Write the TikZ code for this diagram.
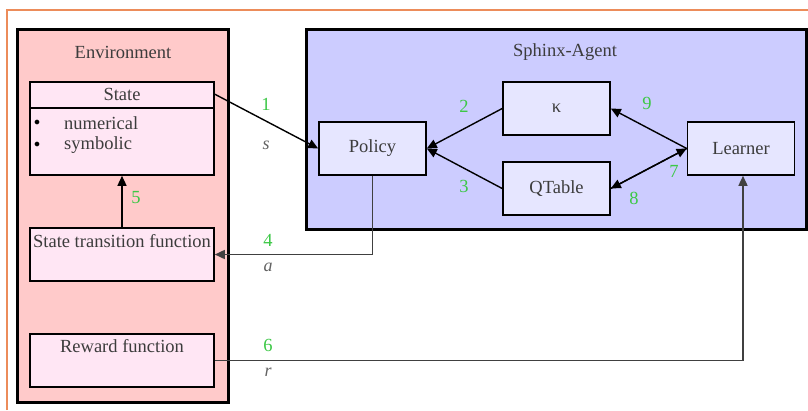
\documentclass[tikz,border=0pt]{standalone}
\usepackage{fontspec}
\newfontfamily\tms{Liberation Serif}
\usetikzlibrary{arrows.meta,calc}
\definecolor{envfill}{RGB}{255,202,202}
\definecolor{envbox}{RGB}{255,230,244}
\definecolor{agfill}{RGB}{204,204,255}
\definecolor{agbox}{RGB}{230,230,255}
\definecolor{txt}{RGB}{60,60,60}
\definecolor{lbl}{RGB}{60,200,70}
\definecolor{frame}{RGB}{236,140,90}
\tikzset{
  cluster/.style={draw=black,line width=3pt},
  envnode/.style={draw=black,line width=1.6pt,fill=envbox,minimum width=184pt,inner sep=0pt},
  agnode/.style={draw=black,line width=1.6pt,fill=agbox,minimum width=107pt,minimum height=53pt,inner sep=0pt,text=txt},
  ttl/.style={text=txt,inner sep=0pt},
  num/.style={text=lbl,inner sep=0pt},
  var/.style={text=txt!80,inner sep=0pt,font=\tms\fontsize{18}{20}\selectfont\itshape},
  edge/.style={line width=1.4pt,-{Triangle[length=10pt,width=9pt]}},
  gedge/.style={edge,line width=1.6pt,draw=black!75}
}
\begin{document}
\begin{tikzpicture}[x=1pt,y=-1pt,font=\tms\fontsize{18.5}{20}\selectfont]
\useasboundingbox (0,0) rectangle (808,410);
\fill[white] (0,0) rectangle (808,410);
\draw[frame,line width=1.4pt] (7,410) -- (7,10) -- (808,10);
% clusters
\draw[cluster,fill=envfill] (17,29) rectangle (228,402);
\node[ttl] (envt) at (123,52) {Environment};
\draw[cluster,fill=agfill] (306,29) rectangle (806,229);
\node[ttl] (agt) at (565,52) {Sphinx-Agent};
% environment nodes
\node[envnode,minimum height=93pt] (State) at (122,128.5) {};
\draw[line width=1.2pt] (30,108) -- (214,108);
\node[ttl] (statet) at (122,94) {State};
\node[inner sep=0pt] (b1) at (37,123) {\large$\bullet$};
\node[inner sep=0pt] (b2) at (37,145) {\large$\bullet$};
\node[ttl,anchor=west] (num1) at (64,123) {numerical};
\node[ttl,anchor=west] (sym1) at (64,145) {symbolic};
\node[envnode,minimum height=53pt] (STF) at (122,254.5) {};
\node[ttl] (stft) at (122,241) {State transition function};
\node[envnode,minimum height=53pt] (Reward) at (122,360.5) {};
\node[ttl] (rwt) at (122,346) {Reward function};
% agent nodes
\node[agnode] (Policy) at (372.5,148.5) {Policy};
\node[agnode] (Kappa) at (556.5,108.5) {κ};
\node[agnode] (QTable) at (556.5,188.5) {QTable};
\node[agnode] (Learner) at (741,148.5) {Learner};
% edges
\coordinate (s1) at ([yshift=-13pt]State.north east);
\draw[edge] (s1) -- (Policy.west);
\node[num] (n1) at (266,104) {1};
\node[var] (v1) at (266,145) {s};
\draw[edge] (Kappa.west) -- (Policy.east);
\node[num] (n2) at (464,106) {2};
\draw[edge] (QTable.west) -- (Policy.east);
\node[num] (n3) at (464,186) {3};
\draw[gedge] (Policy.south) |- (STF.east);
\node[num] (n4) at (268,240) {4};
\node[var] (v4) at (268,267) {a};
\draw[edge] (STF.north) -- (State.south);
\node[num] (n5) at (136,198) {5};
\draw[gedge] (Reward.east) -| ([xshift=2pt]Learner.south);
\node[num] (n6) at (268,345) {6};
\node[var] (v6) at (268,372) {r};
\draw[edge] (QTable.east) -- (Learner.west);
\node[num] (n7) at (674,171) {7};
\draw[edge] (Learner.west) -- (QTable.east);
\node[num] (n8) at (634,198) {8};
\draw[edge] (Learner.west) -- (Kappa.east);
\node[num] (n9) at (647,103) {9};
\end{tikzpicture}
\end{document}
